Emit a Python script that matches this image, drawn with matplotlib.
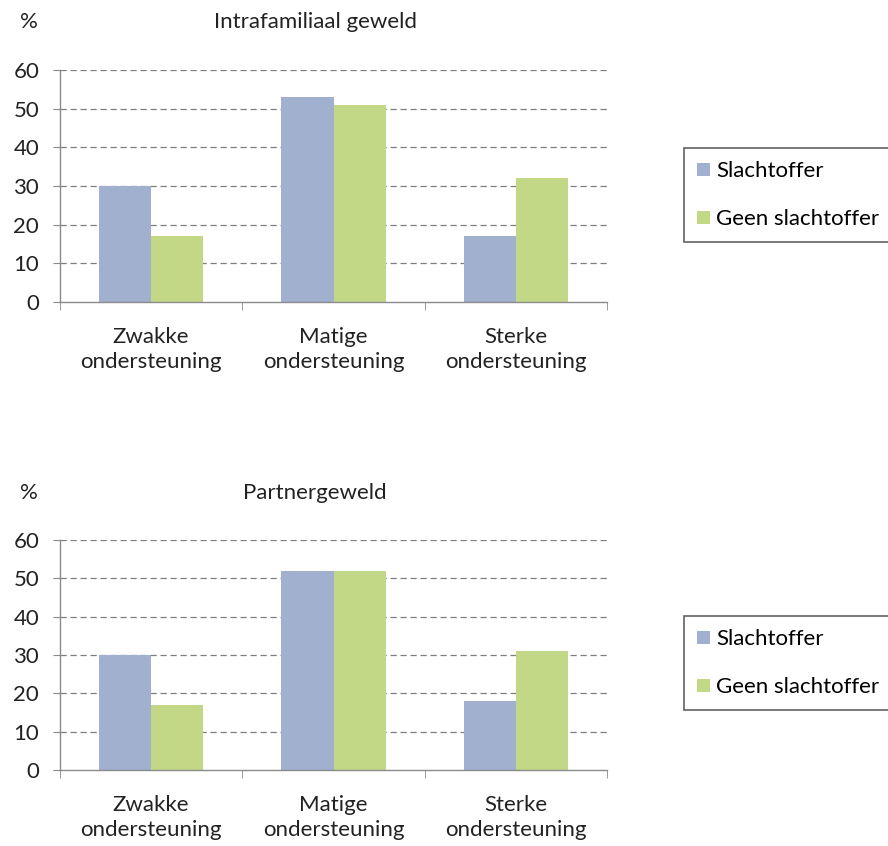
import matplotlib
matplotlib.use("Agg")
import matplotlib.pyplot as plt
from matplotlib.patches import Patch
import numpy as np

categories = ["Zwakke\nondersteuning", "Matige\nondersteuning", "Sterke\nondersteuning"]
series_names = ["Slachtoffer", "Geen slachtoffer"]
intrafamiliaal_slachtoffer = [30, 53, 17]
intrafamiliaal_geen = [17, 51, 32]
partner_slachtoffer = [30, 52, 18]
partner_geen = [17, 52, 31]
y_ticks = [0, 10, 20, 30, 40, 50, 60]

BLUE = "#A2B0CF"
GREEN = "#C3D886"
AXIS = "#8A8A8A"
FONT = "Lato"
FS = 16

W, H = 888, 846
fig = plt.figure(figsize=(W / 100, H / 100), dpi=100)
plt.rcParams["font.family"] = [FONT, "DejaVu Sans"]


def px_axes(x0, y0, x1, y1):
    return fig.add_axes([x0 / W, 1 - y1 / H, (x1 - x0) / W, (y1 - y0) / H])


def draw_panel(ax, title, a, b, title_y, legend_y):
    x = np.arange(len(categories))
    bw = 1 / 3.5
    ax.bar(x - bw / 2, a, width=bw, color=BLUE, zorder=3)
    ax.bar(x + bw / 2, b, width=bw, color=GREEN, zorder=3)
    ax.set_xlim(-0.5, len(categories) - 0.5)
    ax.set_ylim(0, 60)
    ax.set_yticks(y_ticks)
    ax.set_yticklabels([str(t) for t in y_ticks], fontsize=FS, color="#222222")
    ax.tick_params(axis="y", length=5, color=AXIS, pad=10)
    ax.set_xticks(x)
    ax.set_xticklabels(categories, fontsize=FS, color="#222222", linespacing=1.3)
    ax.tick_params(axis="x", which="major", length=0, pad=18)
    ax.set_xticks(np.arange(len(categories) + 1) - 0.5, minor=True)
    ax.tick_params(axis="x", which="minor", length=6, color=AXIS)
    for t in y_ticks[1:]:
        ax.axhline(t, color="#7F7F7F", lw=0.9, ls=(0, (5, 3)), zorder=1)
    for s in ("top", "right"):
        ax.spines[s].set_visible(False)
    for s in ("left", "bottom"):
        ax.spines[s].set_color(AXIS)
        ax.spines[s].set_linewidth(1.0)
    ax.spines["bottom"].set_zorder(4)
    fig.text(20 / W, 1 - title_y / H, "%", fontsize=FS, ha="left", va="center", color="#222222")
    fig.text(315 / W, 1 - title_y / H, title, fontsize=FS, ha="center", va="center", color="#222222")
    handles = [Patch(facecolor=BLUE, edgecolor="none"), Patch(facecolor=GREEN, edgecolor="none")]
    leg = fig.legend(handles, series_names, loc="upper left",
                     bbox_to_anchor=(684 / W, 1 - legend_y / H),
                     frameon=True, fancybox=False, fontsize=FS,
                     handlelength=0.55, handleheight=0.55, handletextpad=0.3,
                     labelspacing=1.25, borderpad=0.6, borderaxespad=0)
    leg.get_frame().set_edgecolor("#3A3A3A")
    leg.get_frame().set_linewidth(1.2)
    return leg


ax1 = px_axes(60, 70, 607, 302)
draw_panel(ax1, "Intrafamiliaal geweld", intrafamiliaal_slachtoffer, intrafamiliaal_geen, 22, 148)
ax2 = px_axes(60, 540, 607, 770)
draw_panel(ax2, "Partnergeweld", partner_slachtoffer, partner_geen, 493, 616)

fig.savefig("out.png", dpi=100)
